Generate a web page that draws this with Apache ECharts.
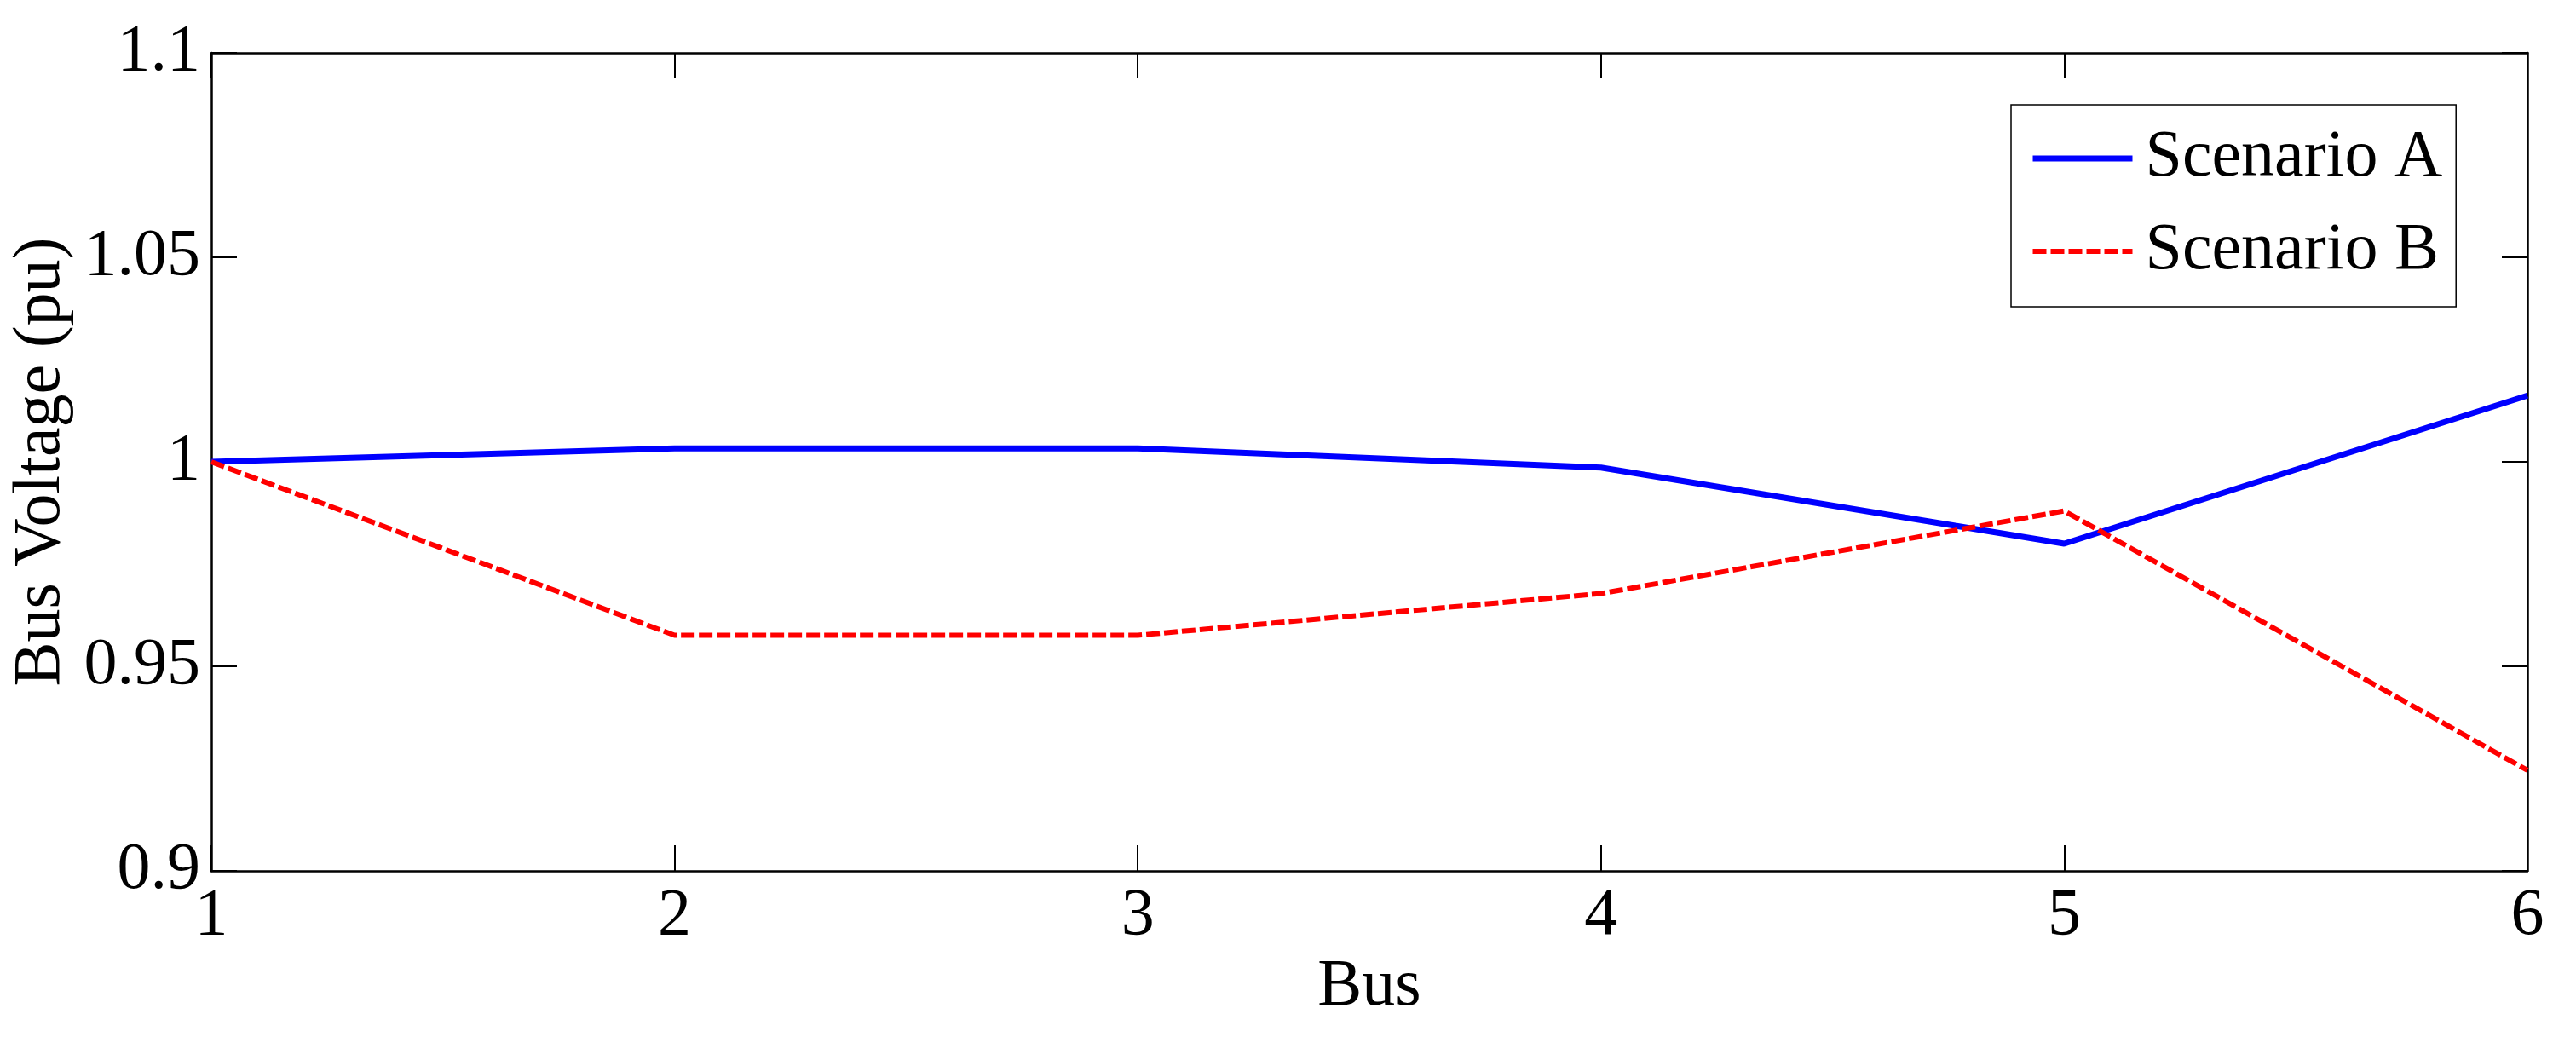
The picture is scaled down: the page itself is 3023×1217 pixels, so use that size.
<!DOCTYPE html>
<html>
<head>
<meta charset="utf-8">
<title>Bus Voltage</title>
<script src="https://cdn.jsdelivr.net/npm/echarts@6/dist/echarts.min.js"></script>
<style>
  html, body {
    margin: 0;
    padding: 0;
    background: #fff;
  }
  #main {
    width: 3023px;
    height: 1217px;
  }
</style>
</head>
<body>
<div id="main"></div>
<script>
// data
var buses = [1, 2, 3, 4, 5, 6];
var scenarioA = [1.0, 1.0033, 1.0033, 0.9986, 0.980, 1.0162];
var scenarioB = [1.0, 0.9576, 0.9576, 0.9678, 0.988, 0.9246];
var yTicks = [0.9, 0.95, 1, 1.05, 1.1];
var seriesNames = ["Scenario A", "Scenario B"];

var font = "'Liberation Serif', 'Times New Roman', serif";
var fontSize = 78;

function pairs(values) {
  return buses.map(function (b, i) {
    return [b, values[i]];
  });
}

var myChart = echarts.init(document.getElementById("main"));

var axisLine = { show: true, lineStyle: { color: "#000", width: 2.5 } };
var tick = { show: true, inside: true, length: 30, lineStyle: { color: "#000", width: 2 } };

let option = {
  backgroundColor: "#fff",
  animation: false,
  grid: {
    left: 248,
    top: 62,
    right: 57,
    bottom: 195
  },
  legend: {
    orient: "vertical",
    left: 2360,
    top: 123,
    padding: [24, 16, 26, 22],
    itemWidth: 117,
    itemHeight: 30,
    itemGap: 31,
    borderColor: "#000",
    borderWidth: 1.5,
    backgroundColor: "#fff",
    // only the line in the legend sample, no marker
    itemStyle: { opacity: 0 },
    textStyle: {
      fontFamily: font,
      fontSize: fontSize,
      color: "#000",
      padding: [0, 0, 0, 10]
    },
    data: [
      { name: seriesNames[0], lineStyle: { width: 7 } },
      { name: seriesNames[1], lineStyle: { width: 6 } }
    ]
  },
  xAxis: [
    {
      type: "value",
      min: buses[0],
      max: buses[buses.length - 1],
      interval: 1,
      name: "Bus",
      nameLocation: "middle",
      nameGap: 93,
      nameTextStyle: { fontFamily: font, fontSize: fontSize, color: "#000" },
      axisLine: axisLine,
      axisTick: tick,
      splitLine: { show: false },
      axisLabel: {
        margin: 15,
        fontFamily: font,
        fontSize: fontSize,
        color: "#000"
      }
    },
    {
      type: "value",
      position: "top",
      min: buses[0],
      max: buses[buses.length - 1],
      interval: 1,
      axisLine: axisLine,
      axisTick: tick,
      splitLine: { show: false },
      axisLabel: { show: false }
    }
  ],
  yAxis: [
    {
      type: "value",
      min: yTicks[0],
      max: yTicks[yTicks.length - 1],
      interval: 0.05,
      name: "Bus Voltage (pu)",
      nameLocation: "middle",
      nameRotate: 90,
      nameGap: 140,
      nameTextStyle: { fontFamily: font, fontSize: fontSize, color: "#000" },
      axisLine: axisLine,
      axisTick: tick,
      splitLine: { show: false },
      axisLabel: {
        margin: 13,
        fontFamily: font,
        fontSize: fontSize,
        color: "#000",
        formatter: function (v) {
          return String(+v.toFixed(2));
        }
      }
    },
    {
      type: "value",
      position: "right",
      min: yTicks[0],
      max: yTicks[yTicks.length - 1],
      interval: 0.05,
      axisLine: axisLine,
      axisTick: tick,
      splitLine: { show: false },
      axisLabel: { show: false }
    }
  ],
  series: [
    {
      name: seriesNames[0],
      type: "line",
      symbol: "none",
      showSymbol: false,
      color: "#0000ff",
      lineStyle: { color: "#0000ff", width: 7, type: "solid" },
      data: pairs(scenarioA)
    },
    {
      name: seriesNames[1],
      type: "line",
      symbol: "none",
      showSymbol: false,
      color: "#ff0000",
      lineStyle: { color: "#ff0000", width: 6, type: [16, 5] },
      data: pairs(scenarioB)
    }
  ]
};

myChart.setOption(option);
</script>
</body>
</html>
